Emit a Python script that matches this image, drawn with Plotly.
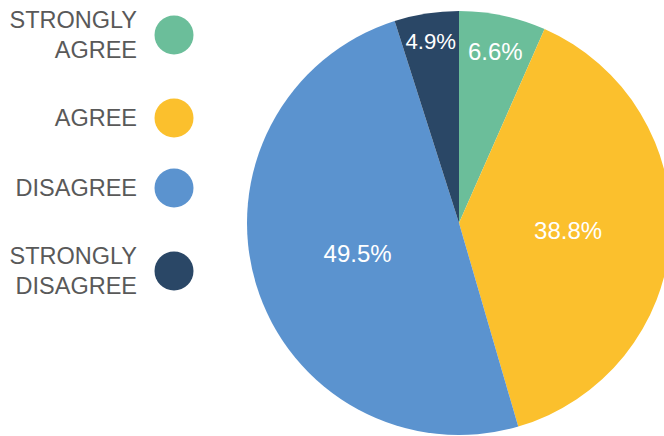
import plotly.graph_objects as go

categories = ["STRONGLY AGREE", "AGREE", "DISAGREE", "STRONGLY DISAGREE"]
legend_labels = ["STRONGLY<br>AGREE", "AGREE", "DISAGREE", "STRONGLY<br>DISAGREE"]
values = [6.6, 38.8, 49.5, 4.9]
colors = ["#6BBE9A", "#FBC02D", "#5B93CF", "#2A4766"]

W, H = 700, 436
FONT = "Liberation Sans, Arial, sans-serif"

# legend layout: stack entries by number of text lines
line_counts = [lbl.count("<br>") + 1 for lbl in legend_labels]
heights = [44 + 26 * n for n in line_counts]
ys = []
cur = 35 - heights[0] / 2
for h in heights:
    ys.append(cur + h / 2)
    cur += h
text_ys = [y + 2 for y in ys]

fig = go.Figure()

fig.add_trace(go.Pie(
    labels=categories,
    values=values,
    sort=False,
    direction="clockwise",
    rotation=0,
    marker=dict(colors=colors, line=dict(width=0)),
    texttemplate="%{value:.1f}%",
    textposition="inside",
    insidetextorientation="horizontal",
    textfont=dict(family=FONT, size=24, color="white"),
    domain=dict(x=[(459 - 212) / W, (459 + 212) / W], y=[1 / H, 425 / H]),
    showlegend=False,
    hoverinfo="label+percent",
))

# custom legend: labels to the left of round swatches
fig.add_trace(go.Scatter(
    x=[137] * len(categories), y=text_ys, mode="text",
    text=legend_labels, textposition="middle left",
    textfont=dict(family=FONT, size=23.5, color="#595959"),
    showlegend=False, hoverinfo="skip",
    xaxis="x", yaxis="y",
))
fig.add_trace(go.Scatter(
    x=[174] * len(categories), y=ys, mode="markers",
    marker=dict(size=39, color=colors, line=dict(width=0)),
    showlegend=False, hovertext=categories, hoverinfo="text",
    xaxis="x", yaxis="y",
))

fig.update_layout(
    width=W, height=H,
    margin=dict(l=0, r=0, t=0, b=0),
    paper_bgcolor="white", plot_bgcolor="rgba(0,0,0,0)",
    xaxis=dict(range=[0, W], visible=False, domain=[0, 1], fixedrange=True),
    yaxis=dict(range=[H, 0], visible=False, domain=[0, 1], fixedrange=True),
    showlegend=False,
)

fig.write_html(
    "out.html",
    config={"displayModeBar": False},
    post_script="document.body.style.margin='0';document.body.style.overflow='hidden';document.documentElement.style.overflow='hidden';",
)
